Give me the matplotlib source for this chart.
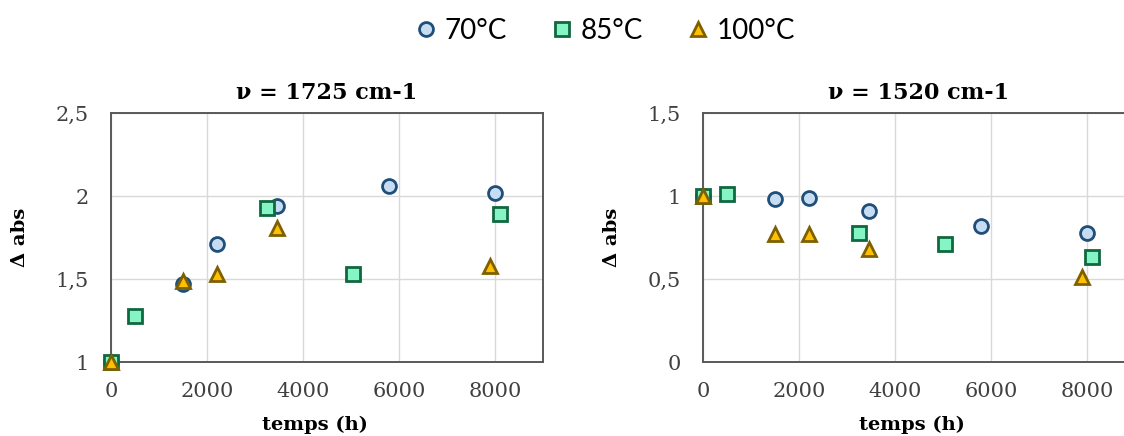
import numpy as np
import matplotlib.pyplot as plt
from matplotlib.ticker import FuncFormatter

# temps (h) et delta abs
t70 = [0, 1500, 2200, 3450, 5800, 8000]
t85 = [0, 500, 3250, 5050, 8100]
t100 = [0, 1500, 2200, 3450, 7900]

a1725_70 = [1.0, 1.47, 1.71, 1.94, 2.06, 2.02]
a1725_85 = [1.0, 1.28, 1.93, 1.53, 1.89]
a1725_100 = [1.0, 1.49, 1.53, 1.81, 1.58]

a1520_70 = [1.0, 0.98, 0.99, 0.91, 0.82, 0.78]
a1520_85 = [1.0, 1.01, 0.78, 0.71, 0.63]
a1520_100 = [1.0, 0.77, 0.77, 0.68, 0.51]

labels = ['70°C', '85°C', '100°C']
titres = ['ν = 1725 cm-1', 'ν = 1520 cm-1']

styles = [
    dict(marker='o', mfc='#C5DCF2', mec='#1F4E79'),
    dict(marker='s', mfc='#86F5C6', mec='#10683E'),
    dict(marker='^', mfc='#FFC000', mec='#7F6000'),
]

serif = 'DejaVu Serif'
virgule = FuncFormatter(lambda v, p: f'{v:g}'.replace('.', ','))

fig = plt.figure(figsize=(11.24, 4.36), dpi=100)
# le graphique de droite est coupé par le bord de l'image
ax1 = fig.add_axes([0.0988, 0.1697, 0.3843, 0.571])
ax2 = fig.add_axes([0.6254, 0.1697, 0.3843, 0.571])

donnees = [
    (ax1, [a1725_70, a1725_85, a1725_100], (1, 2.5), [1, 1.5, 2, 2.5], 0.473),
    (ax2, [a1520_70, a1520_85, a1520_100], (0, 1.5), [0, 0.5, 1, 1.5], 0.484),
]
temps = [t70, t85, t100]

for i, (ax, series, ylim, yt, xl) in enumerate(donnees):
    for t, y, st, lab in zip(temps, series, styles, labels):
        ax.plot(t, y, ls='none', ms=10, mew=2, label=lab, clip_on=False,
                zorder=3, **st)
    ax.set_xlim(0, 9000)
    ax.set_ylim(*ylim)
    ax.set_xticks([0, 2000, 4000, 6000, 8000])
    ax.set_yticks(yt)
    ax.yaxis.set_major_formatter(virgule)
    ax.grid(True, color='#D9D9D9', lw=1)
    ax.set_axisbelow(True)
    ax.tick_params(axis='x', length=0, labelsize=15, pad=14.5)
    ax.tick_params(axis='y', length=0, labelsize=15, pad=16)
    for lb in ax.get_xticklabels() + ax.get_yticklabels():
        lb.set_family(serif)
        lb.set_color('#404040')
    for s in ax.spines.values():
        s.set_color('#595959')
        s.set_linewidth(1.4)
    ax.set_title(titres[i], fontsize=16, fontweight='bold', family=serif, pad=10)
    ax.set_xlabel('temps (h)', fontsize=14, fontweight='bold', family=serif)
    ax.set_ylabel('Δ abs', fontsize=14, fontweight='bold', family=serif)
    ax.xaxis.set_label_coords(xl, -0.215)
    ax.yaxis.set_label_coords(-0.19, 0.5)

h, l = ax1.get_legend_handles_labels()
fig.legend(h, l, loc='center', bbox_to_anchor=(0.537, 0.93), ncol=3, frameon=False,
           handletextpad=0.15, columnspacing=1.5, handlelength=1.0,
           prop={'family': 'Lato', 'size': 20})

fig.savefig('out.png', dpi=100)
